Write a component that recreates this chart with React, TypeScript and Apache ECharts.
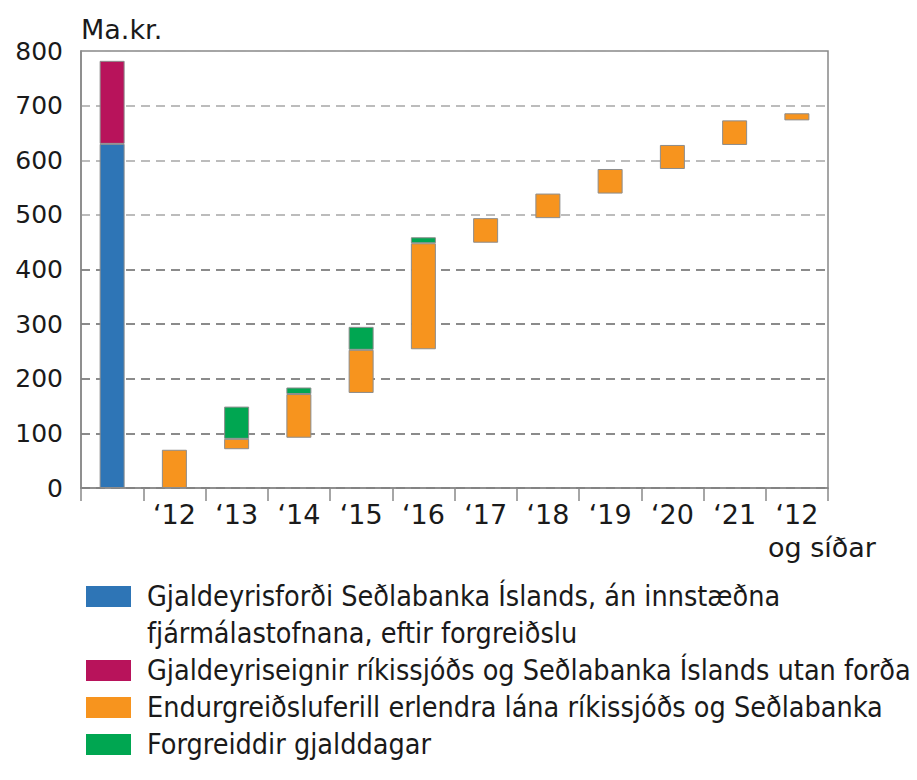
import React, { useEffect, useRef } from "react";
import * as echarts from "echarts";

const categories = ["", "‘12", "‘13", "‘14", "‘15", "‘16", "‘17", "‘18", "‘19", "‘20", "‘21", "‘12\nog síðar"];
const baseValues = [0, 0, 71, 92, 174, 254, 449, 494, 539, 584, 628, 673];
const reservesValues = [630, null, null, null, null, null, null, null, null, null, null, null];
const otherAssetsValues = [152, null, null, null, null, null, null, null, null, null, null, null];
const repaymentValues = [null, 70, 19, 80, 79, 194, 45, 45, 45, 44, 45, 13];
const prepaidValues = [null, null, 59, 12, 42, 11, null, null, null, null, null, null];

const seriesNames = [
  "Gjaldeyrisforði Seðlabanka Íslands, án innstæðna\nfjármálastofnana, eftir forgreiðslu",
  "Gjaldeyriseignir ríkissjóðs og Seðlabanka Íslands utan forða",
  "Endurgreiðsluferill erlendra lána ríkissjóðs og Seðlabanka",
  "Forgreiddir gjalddagar",
];
const colors = ["#2e75b6", "#b8135b", "#f7941e", "#00a651"];
const yTicks = { min: 0, max: 800, interval: 100 };

const FONT = '"DejaVu Sans", sans-serif';
const LEGEND_FONT = '"DejaVu Sans Condensed", "Liberation Sans Narrow", "DejaVu Sans", sans-serif';
const LEGEND_LINE = 37;

export default function App() {
  const ref = useRef<HTMLDivElement>(null);
  useEffect(() => {
    if (!ref.current) return;
    const chart = echarts.init(ref.current, null, { renderer: "svg" });
    const barBorder = { borderColor: "#8c8c8c", borderWidth: 1 };
    const valueSeries = [reservesValues, otherAssetsValues, repaymentValues, prepaidValues];
    chart.setOption({
      animation: false,
      grid: {
        left: 81,
        right: 89,
        top: 51,
        bottom: 292,
        show: true,
        borderColor: "#888",
        borderWidth: 1.5,
      },
      xAxis: {
        type: "category",
        data: categories,
        axisLine: { lineStyle: { color: "#888", width: 1.5 } },
        axisTick: { show: true, length: 13, interval: 0, lineStyle: { color: "#888", width: 1.5 } },
        axisLabel: {
          interval: 0,
          margin: 10,
          fontFamily: FONT,
          fontSize: 27,
          color: "#1a1a1a",
          lineHeight: 33,
          formatter: (v: string) => {
            if (v.indexOf("\n") >= 0) {
              const parts = v.split("\n");
              return "{a|" + parts[0] + "}\n{b|" + parts[1] + "}";
            }
            return "{a|" + v + "}";
          },
          rich: {
            a: { align: "center", fontFamily: FONT, fontSize: 27, lineHeight: 33, color: "#1a1a1a" },
            b: { align: "left", padding: [0, 0, 0, 50], fontFamily: FONT, fontSize: 27, lineHeight: 33, color: "#1a1a1a" },
          },
        },
        splitLine: { show: false },
      },
      yAxis: {
        type: "value",
        min: yTicks.min,
        max: yTicks.max,
        interval: yTicks.interval,
        name: "Ma.kr.",
        nameLocation: "end",
        nameGap: 8,
        nameTextStyle: { align: "left", fontFamily: FONT, fontSize: 27, color: "#1a1a1a", verticalAlign: "bottom" },
        axisLine: { show: true, lineStyle: { color: "#888", width: 1.5 } },
        axisTick: { show: false },
        axisLabel: { fontFamily: FONT, fontSize: 25, color: "#1a1a1a", margin: 18 },
        splitLine: {
          show: true,
          lineStyle: {
            type: [9, 6],
            width: 1.5,
            color: ["#666", "#666", "#666", "#666", "#666", "#a6a6a6", "#a6a6a6", "#a6a6a6", "#a6a6a6"],
          },
        },
      },
      legend: {
        orient: "vertical",
        left: 81,
        top: 536,
        itemWidth: 45,
        itemHeight: 21,
        itemGap: 0,
        icon: "rect",
        itemStyle: { borderWidth: 0 },
        textStyle: {
          fontFamily: LEGEND_FONT,
          fontSize: 28.5,
          lineHeight: LEGEND_LINE,
          color: "#1a1a1a",
          padding: [0, 0, 0, 11],
          rich: { x: {} },
        },
        data: [
          { name: seriesNames[0], textStyle: { padding: [LEGEND_LINE, 0, 0, 11] } },
          { name: seriesNames[1] },
          { name: seriesNames[2] },
          { name: seriesNames[3] },
        ],
      },
      series: [
        {
          name: "base",
          type: "bar",
          stack: "total",
          barWidth: 25,
          silent: true,
          itemStyle: { color: "transparent", borderWidth: 0 },
          data: baseValues,
        },
        ...valueSeries.map((vals, i) => ({
          name: seriesNames[i],
          type: "bar",
          stack: "total",
          barWidth: 25,
          itemStyle: { color: colors[i], ...barBorder },
          data: vals.map((v) => (v === null ? "-" : v)),
        })),
      ],
    });
    return () => chart.dispose();
  }, []);
  return <div ref={ref} style={{ width: 917, height: 780, position: "absolute", left: 0, top: 0 }} />;
}
